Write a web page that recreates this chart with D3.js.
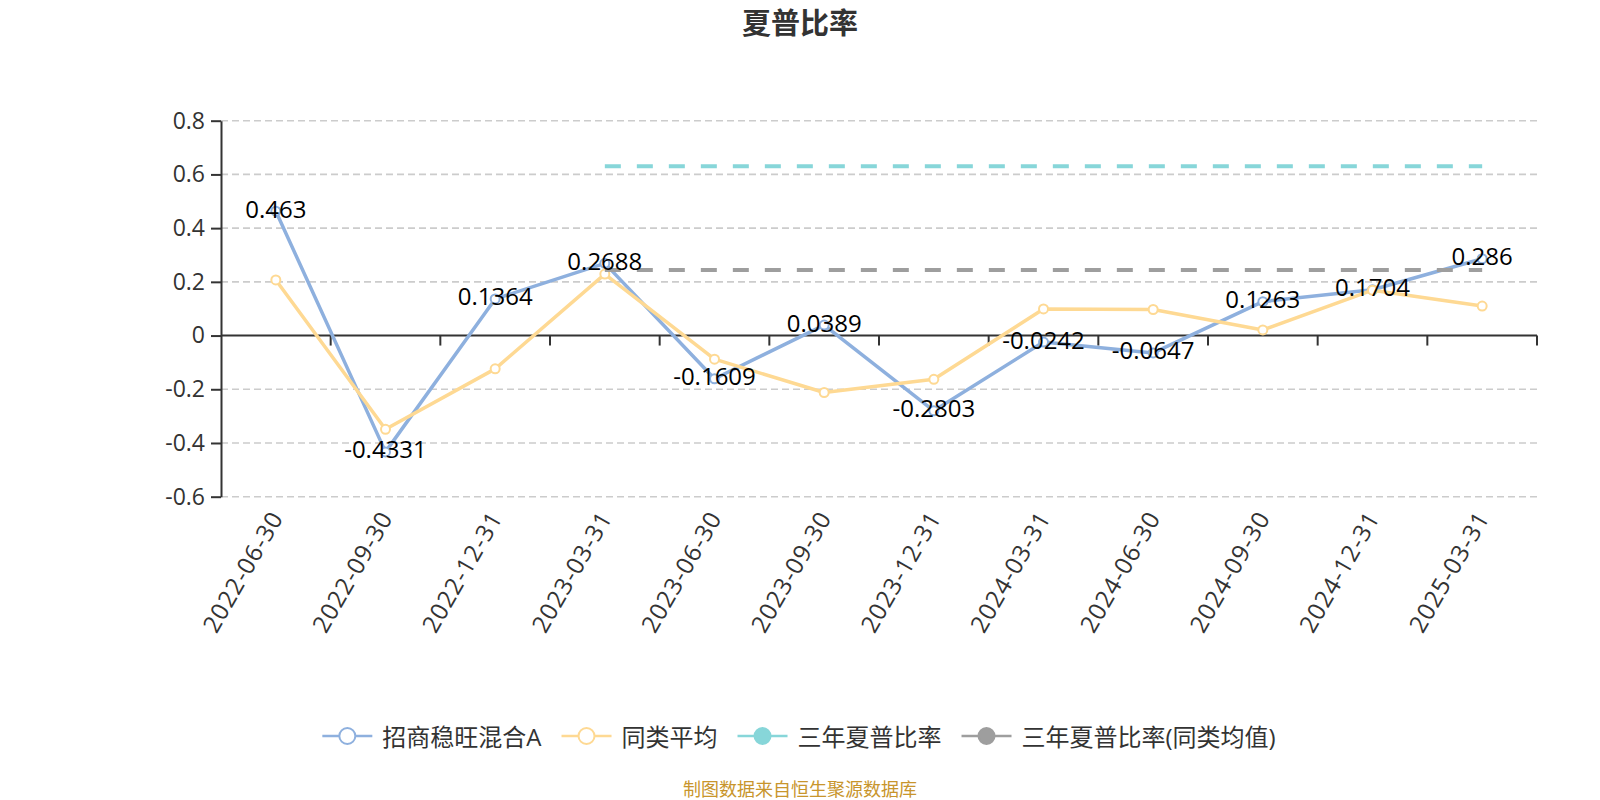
<!DOCTYPE html>
<html>
<head>
<meta charset="utf-8">
<title>夏普比率</title>
<script src="https://cdn.jsdelivr.net/npm/d3@7"></script>
<style>
  body { margin: 0; background: #fff; }
  text { font-family: "Open Sans", "Noto Sans CJK SC", sans-serif; }
</style>
</head>
<body>
<div id="chart"></div>
<script>
//Données
var dates = ["2022-06-30","2022-09-30","2022-12-31","2023-03-31","2023-06-30","2023-09-30",
             "2023-12-31","2024-03-31","2024-06-30","2024-09-30","2024-12-31","2025-03-31"];
var fundValues = [0.463, -0.4331, 0.1364, 0.2688, -0.1609, 0.0389, -0.2803, -0.0242, -0.0647, 0.1263, 0.1704, 0.286];
var peerValues = [0.207, -0.349, -0.124, 0.229, -0.088, -0.212, -0.163, 0.099, 0.097, 0.021, 0.169, 0.110];
var threeYearValues = [null, null, null, 0.63, 0.63, 0.63, 0.63, 0.63, 0.63, 0.63, 0.63, 0.63];
var threeYearPeerValues = [null, null, null, 0.244, 0.244, 0.244, 0.244, 0.244, 0.244, 0.244, 0.244, 0.244];
var yTicks = [-0.6, -0.4, -0.2, 0, 0.2, 0.4, 0.6, 0.8];
var seriesNames = ["招商稳旺混合A", "同类平均", "三年夏普比率", "三年夏普比率(同类均值)"];
var seriesColors = ["#8eb0de", "#fed993", "#87d6d9", "#9e9e9e"];

//Dimensions
var width = 1600, height = 800;
var plot = {left: 221, right: 1537, top: 120.7, bottom: 496.7};

var svg, x, y;

buildSvg();
buildAxes();
buildSeries();
buildLegend();

function buildSvg() {
    svg = d3.select("#chart")
        .append("svg")
        .attr("width", width)
        .attr("height", height);

    svg.append("text")
        .attr("x", 800)
        .attr("y", 22)
        .attr("text-anchor", "middle")
        .attr("dominant-baseline", "central")
        .style("font-size", "29px")
        .style("font-weight", "bold")
        .style("fill", "#333")
        .text("夏普比率");

    svg.append("text")
        .attr("x", 800)
        .attr("y", 789)
        .attr("text-anchor", "middle")
        .attr("dominant-baseline", "central")
        .style("font-size", "18px")
        .style("fill", "#c8952c")
        .text("制图数据来自恒生聚源数据库");
}

function buildAxes() {
    x = d3.scaleBand()
        .domain(dates)
        .range([plot.left, plot.right]);

    y = d3.scaleLinear()
        .domain([-0.6, 0.8])
        .range([plot.bottom, plot.top]);

    // grille horizontale
    svg.append("g")
        .selectAll("line")
        .data(yTicks.filter(function(d) { return d !== 0; }))
        .enter().append("line")
        .attr("x1", plot.left)
        .attr("x2", plot.right)
        .attr("y1", function(d) { return y(d); })
        .attr("y2", function(d) { return y(d); })
        .style("stroke", "#cccccc")
        .style("stroke-width", 1.6)
        .style("stroke-dasharray", "7,4");

    // axe des ordonnées
    var yAxis = svg.append("g")
        .attr("transform", "translate(" + plot.left + ",0)")
        .call(d3.axisLeft(y)
            .tickValues(yTicks)
            .tickSize(10)
            .tickSizeOuter(0)
            .tickPadding(6)
            .tickFormat(function(d) { return String(+d.toFixed(1)); }));
    yAxis.selectAll("path, line").style("stroke", "#333").style("stroke-width", 2);
    yAxis.selectAll("text").style("font-size", "23px").style("fill", "#333")
        .style("font-family", "'Open Sans', 'Noto Sans CJK SC', sans-serif");

    // axe des abscisses sur le zéro
    var xAxis = svg.append("g");
    xAxis.append("line")
        .attr("x1", plot.left)
        .attr("x2", plot.right)
        .attr("y1", y(0))
        .attr("y2", y(0))
        .style("stroke", "#333")
        .style("stroke-width", 2);

    var tickPos = dates.slice(1).map(function(d) { return x(d); });
    tickPos.push(plot.right);
    xAxis.selectAll(".xtick")
        .data(tickPos)
        .enter().append("line")
        .attr("class", "xtick")
        .attr("x1", function(d) { return d; })
        .attr("x2", function(d) { return d; })
        .attr("y1", y(0))
        .attr("y2", y(0) + 10)
        .style("stroke", "#333")
        .style("stroke-width", 2);

    // étiquettes en bas de la grille
    svg.append("g")
        .selectAll("text")
        .data(dates)
        .enter().append("text")
        .attr("transform", function(d) {
            return "translate(" + (x(d) + x.bandwidth() / 2) + "," + (plot.bottom + 16) + ") rotate(-60)";
        })
        .attr("text-anchor", "end")
        .attr("dominant-baseline", "central")
        .style("font-size", "24px")
        .style("letter-spacing", "1px")
        .style("fill", "#333")
        .text(function(d) { return d; });
}

function px(i) {
    return x(dates[i]) + x.bandwidth() / 2;
}

function buildSeries() {
    var line = d3.line()
        .defined(function(d) { return d !== null; })
        .x(function(d, i) { return px(i); })
        .y(function(d) { return y(d); });

    var lineSeries = [fundValues, peerValues];
    lineSeries.forEach(function(values, k) {
        svg.append("path")
            .datum(values)
            .attr("d", line)
            .style("fill", "none")
            .style("stroke", seriesColors[k])
            .style("stroke-width", 3.5)
            .style("stroke-linejoin", "round");

        svg.append("g")
            .selectAll("circle")
            .data(values)
            .enter().append("circle")
            .attr("cx", function(d, i) { return px(i); })
            .attr("cy", function(d) { return y(d); })
            .attr("r", 4.5)
            .style("fill", "#fff")
            .style("stroke", seriesColors[k])
            .style("stroke-width", 2);
    });

    // lignes pointillées des trois ans
    [threeYearValues, threeYearPeerValues].forEach(function(values, k) {
        svg.append("path")
            .datum(values)
            .attr("d", line)
            .style("fill", "none")
            .style("stroke", seriesColors[k + 2])
            .style("stroke-width", 4)
            .style("stroke-dasharray", "16,16");
    });

    // valeurs du fonds
    svg.append("g")
        .selectAll("text")
        .data(fundValues)
        .enter().append("text")
        .attr("x", function(d, i) { return px(i); })
        .attr("y", function(d) { return y(d) - 3; })
        .attr("text-anchor", "middle")
        .attr("dominant-baseline", "central")
        .style("font-size", "24px")
        .style("fill", "#000")
        .text(function(d) { return d; });
}

function buildLegend() {
    var legend = svg.append("g");
    var items = [];
    var offset = 0;
    seriesNames.forEach(function(name, i) {
        var g = legend.append("g");
        g.append("line")
            .attr("x1", 0).attr("x2", 50)
            .attr("y1", 0).attr("y2", 0)
            .style("stroke", seriesColors[i])
            .style("stroke-width", 2.5);
        g.append("circle")
            .attr("cx", 25).attr("cy", 0).attr("r", 8)
            .style("fill", i < 2 ? "#fff" : seriesColors[i])
            .style("stroke", seriesColors[i])
            .style("stroke-width", 2);
        var t = g.append("text")
            .attr("x", 60)
            .attr("y", 0)
            .attr("dominant-baseline", "central")
            .style("font-size", "24px")
            .style("fill", "#333")
            .text(name);
        var w = 60 + t.node().getComputedTextLength();
        items.push({g: g, x: offset});
        offset += w + 20;
    });
    var total = offset - 20;
    var start = 799 - total / 2;
    items.forEach(function(it) {
        it.g.attr("transform", "translate(" + (start + it.x) + ",736)");
    });
}
</script>
</body>
</html>
